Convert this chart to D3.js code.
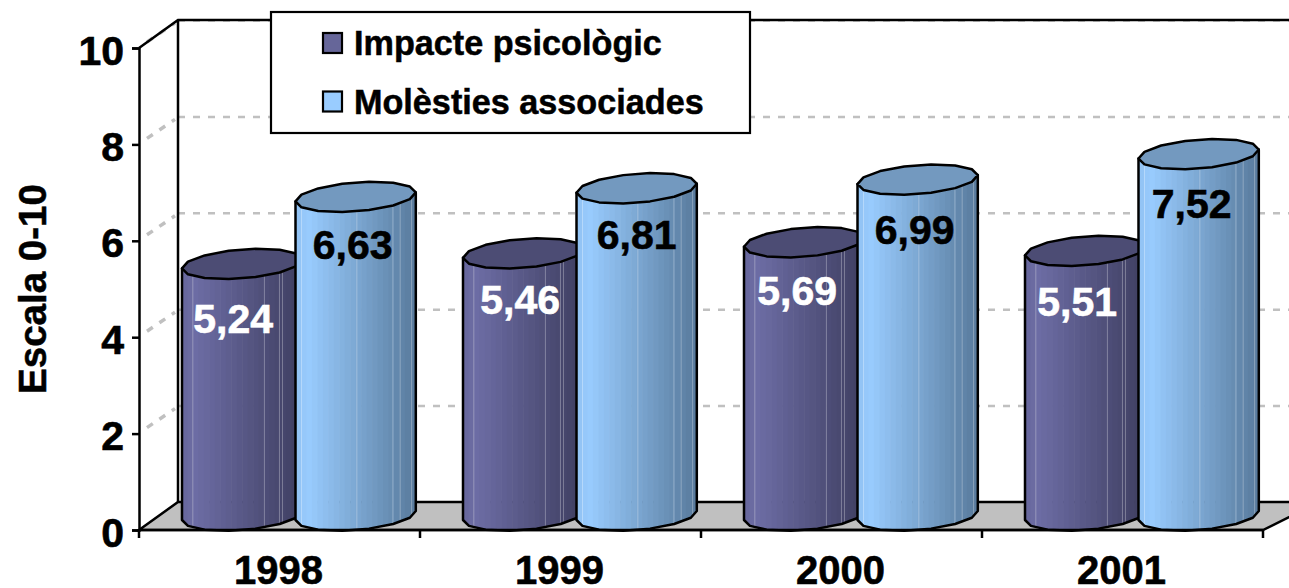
<!DOCTYPE html>
<html><head><meta charset="utf-8">
<script src="https://cdn.jsdelivr.net/npm/d3@7"></script>
<style>html,body{margin:0;padding:0;background:#fff}svg{display:block}text{font-family:"Liberation Sans",Arial,sans-serif;font-weight:bold}</style>
</head><body><svg id="c" width="1289" height="588"></svg>
<script>
const categories = ["1998","1999","2000","2001"];
const seriesNames = ["Impacte psicològic","Molèsties associades"];
const impacte = [5.24,5.46,5.69,5.51];
const molesties = [6.63,6.81,6.99,7.52];
const valueLabels = [["5,24","5,46","5,69","5,51"],["6,63","6,81","6,99","7,52"]];
const yTicks = [0,2,4,6,8,10];
const seriesValues = [impacte, molesties];

// style / layout
const ramps = [
  {light:"#6d6da5", dark:"#3e3e60", top:"#4c4c74", swatch:"#666699"},
  {light:"#99ccff", dark:"#587a9b", top:"#7399bf", swatch:"#99ccff"}
];
const labelColors = ["#fff","#000"];
const labelNudge = [[[-9,6],[-3,-2],[-7,0],[-8,2]],[[-3,-1],[0,-2],[-3,1],[-7,1]]];
const depth = {x:39,y:28};
const svg = d3.select("#c");
const x0 = d3.scaleBand().domain(categories).range([139,1263]);
const x1 = d3.scaleBand().domain(d3.range(2)).range([43,270]);
const y = d3.scaleLinear().domain([0,10]).range([530,48]);
const rx = x1.bandwidth()*1.06/2, ry = 14.5, tilt = 4.5;

// walls and floor
const y0=y(0), yT=y(10), xL=139, xB=xL+depth.x;
svg.append("polygon").attr("points",[[xL,y0],[xB,y0-depth.y],[1320,y0-depth.y],[1263,y0]].join(" "))
  .attr("fill","#c0c0c0").attr("stroke","#000").attr("stroke-width",2.5);
const gridVals = yTicks.filter(d=>d>0);
svg.selectAll(".g").data(gridVals).join("line").attr("x1",xB).attr("x2",1289)
  .attr("y1",d=>y(d)-depth.y+.5).attr("y2",d=>y(d)-depth.y+.5)
  .attr("stroke","#c0c0c0").attr("stroke-width",2.5).attr("stroke-dasharray","7 8");
svg.selectAll(".s").data(gridVals).join("line").attr("x1",xL+8).attr("x2",xB-3)
  .attr("y1",d=>y(d)-6).attr("y2",d=>y(d)-depth.y+3)
  .attr("stroke","#c0c0c0").attr("stroke-width",3.5).attr("stroke-dasharray","7 8");
svg.append("path").attr("d",`M${xL},${yT}L${xB},${yT-depth.y}L1320,${yT-depth.y}M${xB},${yT-depth.y}V${y0-depth.y}`)
  .attr("fill","none").attr("stroke","#000").attr("stroke-width",2.5);

// cylinders
const N=14;
const pt=(cx,cy,a)=>[cx+rx*Math.cos(a), cy-ry*Math.sin(a)-tilt*Math.cos(a)];
const polyAngles=d3.range(N).map(i=>i/N*2*Math.PI);
const defs=svg.append("defs");
const lightOff=[[.09,.685,.81,.835],[.05,.51,.81,.87,.965]];
let uid=0;
function cylinder(s,c,i){
  const v=seriesValues[s][i], r=ramps[s];
  const cx=x0(c)+x1(s)+rx, cyT=y(v)-ry+1, cyB=y(0)-ry;
  const top=polyAngles.map(a=>pt(cx,cyT,a));
  const lower=polyAngles.filter(a=>a>=Math.PI).map(a=>pt(cx,cyB,a));
  const outline=[pt(cx,cyT,Math.PI),...lower,pt(cx,cyB,0),pt(cx,cyT,0)];
  const id="cl"+(uid++);
  defs.append("clipPath").attr("id",id).append("polygon").attr("points",outline.join(" "));
  const g=svg.append("g");
  const body=g.append("g").attr("clip-path",`url(#${id})`);
  const bands=22, w=2*rx/bands;
  const col=d3.interpolateRgb(r.light,r.dark);
  d3.range(bands).forEach(b=>{
    const t=(b+.5)/bands;
    const tone=t<.1? .12-.1*(t/.1)+.0 : (t-.1)/.9;
    body.append("rect").attr("x",cx-rx+b*w).attr("y",cyT-40).attr("width",w+.6)
      .attr("height",cyB-cyT+80).attr("fill",col(tone));
  });
  lightOff[s].forEach(o=>{
    body.append("line").attr("x1",cx-rx+o*2*rx).attr("x2",cx-rx+o*2*rx)
      .attr("y1",cyT).attr("y2",cyB+20).attr("stroke","#fff").attr("stroke-opacity",.3).attr("stroke-width",1);
  });
  g.append("polygon").attr("points",outline.join(" ")).attr("fill","none").attr("stroke","#000").attr("stroke-width",2.5).attr("stroke-linejoin","round");
  g.append("polygon").attr("points",top.join(" ")).attr("fill",r.top).attr("stroke","#000").attr("stroke-width",2.5).attr("stroke-linejoin","round");
}
categories.forEach((c,i)=>{cylinder(0,c,i);cylinder(1,c,i);});
categories.forEach((c,i)=>{
  [0,1].forEach(s=>{
    const v=seriesValues[s][i], cx=x0(c)+x1(s)+rx, n=labelNudge[s][i];
    svg.append("text").attr("class","vl").attr("x",cx+n[0]).attr("y",y(v)-ry+50+n[1])
      .attr("text-anchor","middle").attr("dominant-baseline","central")
      .attr("font-size",41).attr("fill",labelColors[s])
      .attr("stroke",labelColors[s]).attr("stroke-width",.6).text(valueLabels[s][i]);
  });
});

// axes
const ay=svg.append("g").attr("transform",`translate(${xL},0)`)
  .call(d3.axisLeft(y).tickValues(yTicks).tickFormat(d3.format("d")).tickSizeOuter(0).tickSize(7).tickPadding(8));
ay.selectAll("text").attr("font-size",41).attr("dy","0.39em").attr("font-family","Liberation Sans").attr("font-weight","bold").attr("fill","#000").attr("stroke","#000").attr("stroke-width",.6);
ay.selectAll("line,path").attr("stroke","#000").attr("stroke-width",2.5);
const ax=svg.append("g").attr("transform",`translate(0,${y0})`)
  .call(d3.axisBottom(x0).tickSize(0).tickPadding(26));
ax.selectAll("text").attr("font-size",40).attr("dx",-1).attr("font-family","Liberation Sans").attr("font-weight","bold").attr("fill","#000").attr("stroke","#000").attr("stroke-width",.6);
ax.select("path").attr("d",`M${xL},0H1263`).attr("stroke","#000").attr("stroke-width",2.5);
ax.selectAll(".edge").data([...categories.map(c=>x0(c)),x0.range()[1]]).join("line")
  .attr("x1",d=>d).attr("x2",d=>d).attr("y1",0).attr("y2",8).attr("stroke","#000").attr("stroke-width",2.5);
svg.append("text").attr("transform","translate(32,289) rotate(-90)").attr("text-anchor","middle")
  .attr("dominant-baseline","central").attr("font-size",38.5).attr("stroke","#000").attr("stroke-width",.5).text("Escala 0-10");

// legend
const lg=svg.append("g");
lg.append("rect").attr("x",271).attr("y",12).attr("width",479).attr("height",121).attr("fill","#fff").attr("stroke","#000").attr("stroke-width",2.2);
seriesNames.forEach((n,i)=>{
  lg.append("rect").attr("x",323).attr("y",33+i*58.5).attr("width",19).attr("height",20).attr("fill",ramps[i].swatch).attr("stroke","#000").attr("stroke-width",2.2);
  lg.append("text").attr("x",354).attr("y",43+i*58.5).attr("dominant-baseline","central").attr("font-size",34.2).attr("stroke","#000").attr("stroke-width",.5).text(n);
});
</script></body></html>
